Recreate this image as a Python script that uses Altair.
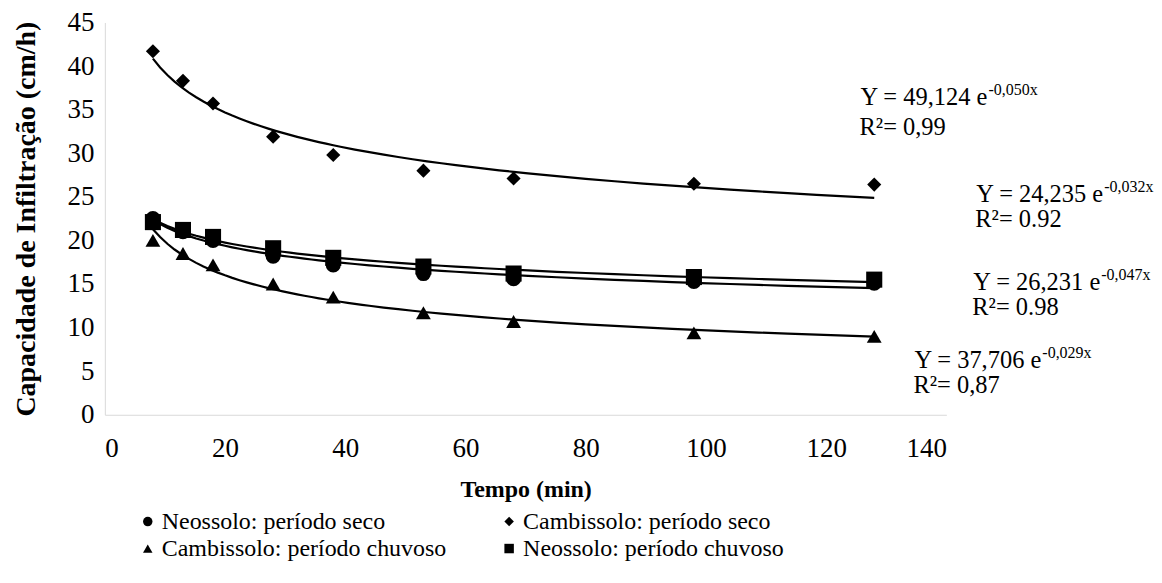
import altair as alt
import pandas as pd

# ---- data ----
tempo = [8, 13, 18, 28, 38, 53, 68, 98, 128]
neo_seco = [22.5, 21.0, 20.0, 18.2, 17.2, 16.2, 15.6, 15.3, 15.1]
camb_seco = [41.7, 38.3, 35.7, 31.9, 29.8, 28.0, 27.1, 26.5, 26.4]
camb_chuv = [20.0, 18.5, 17.2, 15.0, 13.5, 11.7, 10.7, 9.4, 9.0]
neo_chuv = [22.1, 21.2, 20.4, 19.1, 18.0, 17.0, 16.2, 15.8, 15.5]

series_names = [
    "Neossolo: período seco",
    "Cambissolo: período seco",
    "Cambissolo: período chuvoso",
    "Neossolo: período chuvoso",
]
series_values = [neo_seco, camb_seco, camb_chuv, neo_chuv]
shapes = ["circle", "diamond", "triangle-up", "square"]
sizes = [230, 200, 220, 260]

eq_main = ["Y = 49,124 e", "Y = 24,235 e", "Y = 26,231 e", "Y = 37,706 e"]
eq_sup = ["-0,050x", "-0,032x", "-0,047x", "-0,029x"]
eq_r2 = ["R²= 0,99", "R²= 0.92", "R²= 0.98", "R²= 0,87"]

rows = []
for name, vals in zip(series_names, series_values):
    for t, v in zip(tempo, vals):
        rows.append({"tempo": t, "valor": v, "serie": name})
df = pd.DataFrame(rows)

FONT = "Liberation Serif"
W, H = 843, 393

x_enc = alt.X("tempo:Q", title="Tempo (min)",
              scale=alt.Scale(domain=[0, 140], nice=False),
              axis=alt.Axis(values=list(range(0, 141, 20)), labelFont=FONT,
                            labelFontSize=27, titleFont=FONT, titleFontSize=24,
                            labelPadding=21, titlePadding=16))
y_enc = alt.Y("valor:Q", title="Capacidade de Infiltração (cm/h)",
              scale=alt.Scale(domain=[0, 45], nice=False),
              axis=alt.Axis(values=list(range(0, 46, 5)), labelFont=FONT,
                            labelFontSize=27, titleFont=FONT, titleFontSize=28,
                            labelPadding=11, titlePadding=26))

shape_enc = alt.Shape(
    "serie:N", scale=alt.Scale(domain=series_names, range=shapes),
    legend=alt.Legend(title=None, orient="none", legendX=31, legendY=488,
                      direction="horizontal", columns=2, columnPadding=50,
                      rowPadding=3, symbolSize=90, symbolFillColor="black",
                      symbolStrokeColor="black", symbolStrokeWidth=0,
                      labelFont=FONT, labelFontSize=24,
                      labelColor="black", labelOffset=2, labelLimit=600))

point_layers = []
for name, sz in zip(series_names, sizes):
    point_layers.append(
        alt.Chart(df).transform_filter(alt.datum.serie == name)
        .mark_point(filled=True, color="black", opacity=1, size=sz)
        .encode(x=x_enc, y=y_enc, shape=shape_enc)
    )

lines = alt.Chart(df).transform_regression(
    "tempo", "valor", groupby=["serie"], method="pow", extent=[8, 128]
).mark_line(color="black", strokeWidth=2.2).encode(
    x="tempo:Q", y="valor:Q", detail="serie:N"
)

# annotation anchors (pixels relative to plot area)
EQ_FS = 24.5
SUP_FS = 16
main_w = 5.23 * EQ_FS
start_x = [756, 872, 869, 810]
base_y = [83, 180, 268, 346]
r2_y = [113, 205, 293, 371]

one = pd.DataFrame({"k": [0]})
ann = []
for i in range(4):
    ax_i = start_x[i] + main_w
    ann.append(alt.Chart(one).mark_text(text=eq_main[i], font=FONT, fontSize=EQ_FS,
                                        align="right", baseline="alphabetic", color="black")
               .encode(x=alt.value(ax_i), y=alt.value(base_y[i])))
    ann.append(alt.Chart(one).mark_text(text=eq_sup[i], font=FONT, fontSize=SUP_FS,
                                        align="left", baseline="alphabetic", color="black")
               .encode(x=alt.value(ax_i + 1), y=alt.value(base_y[i] - 10)))
    ann.append(alt.Chart(one).mark_text(text=eq_r2[i], font=FONT, fontSize=EQ_FS,
                                        align="left", baseline="alphabetic", color="black")
               .encode(x=alt.value(start_x[i]), y=alt.value(r2_y[i])))

chart = alt.layer(lines, *point_layers, *ann).properties(
    width=W, height=H,
    padding={"left": 5, "top": 0, "right": 0, "bottom": 0},
).configure(font=FONT).configure_view(stroke=None).configure_axis(
    grid=False, ticks=False, domainColor="#d9d9d9", domainWidth=1,
    labelFont=FONT, titleFont=FONT,
    labelColor="black", titleFontWeight="bold", titleColor="black",
).configure_legend(labelFont=FONT)

chart.save("out.html", embed_options={"renderer": "svg", "actions": False})
